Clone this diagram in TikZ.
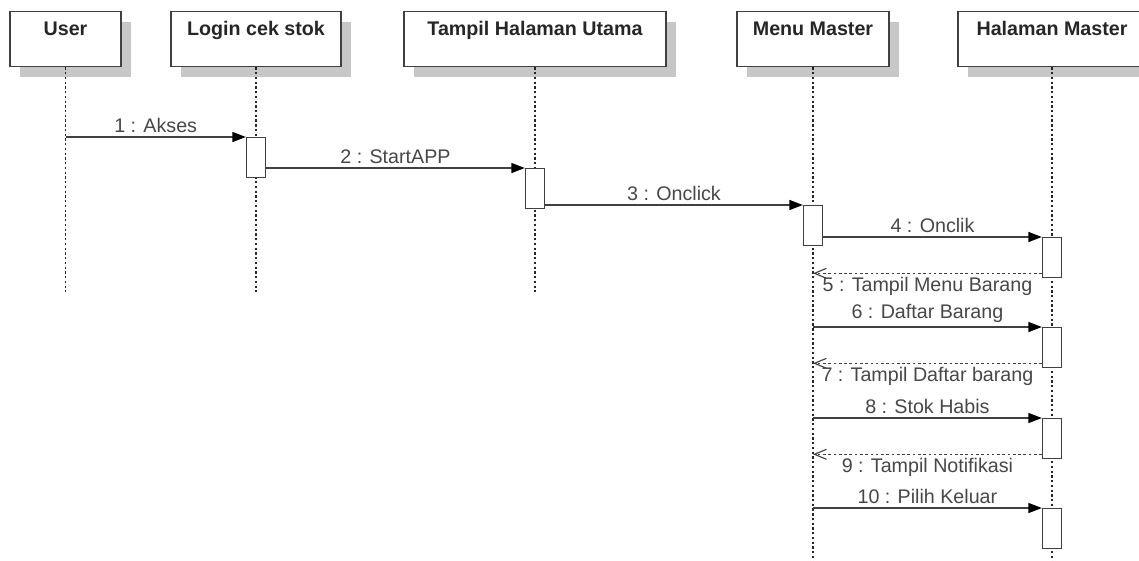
\documentclass[tikz,border=0pt]{standalone}
\usepackage{fontspec}
\setmainfont{Liberation Sans}
\usetikzlibrary{arrows.meta,shadows}

\tikzset{
	objet/.style	=	{draw=black!75, line width=0.75pt, fill=white, anchor=north, inner sep=0pt,
						 text height=0.48cm, text depth=0.62cm, text=black!85,
						 font=\bfseries\fontsize{11.2}{13}\selectfont,
						 drop shadow={shadow xshift=0.2cm, shadow yshift=-0.2cm, fill=black!22, opacity=1}},
	vie/.style		=	{black!85, line width=0.7pt, dash pattern=on 1.3pt off 1.4pt},
	activ/.style	=	{draw=black!75, line width=0.75pt, fill=white, anchor=north, inner sep=0pt,
						 minimum width=0.38cm, minimum height=0.8cm},
	appel/.style	=	{black!75, line width=0.8pt, -{Triangle[length=0.27cm,width=0.2cm,color=black]}},
	retour/.style	=	{black!75, line width=0.65pt, dash pattern=on 1.5pt off 1.5pt,
						 -{Straight Barb[length=0.24cm,width=0.2cm]}},
	etiq/.style		=	{font=\fontsize{11.2}{13}\selectfont, text=black!72, inner sep=2pt}
}

\begin{document}
\begin{tikzpicture}[x=0.02cm, y=-0.02cm]
	% Cadre
	\useasboundingbox	(0,0)	rectangle	(1139,561);
	\clip				(0,0)	rectangle	(1139,561);
	% Objets
	\node [objet, minimum width=2.22cm]	(user)		at (65.5,11)	{User};
	\node [objet, minimum width=3.4cm]	(login)		at (256,11)		{Login cek stok};
	\node [objet, minimum width=5.24cm]	(utama)		at (535,11)		{Tampil Halaman Utama};
	\node [objet, minimum width=3.04cm]	(menu)		at (813,11)		{Menu Master};
	\node [objet, minimum width=3.76cm]	(master)	at (1052,11)	{Halaman Master};
	% Fins des lignes de vie
	\coordinate (userfin)	at (65.5,292);
	\coordinate (loginfin)	at (256,292);
	\coordinate (utamafin)	at (535,292);
	\coordinate (menufin)	at (813,561);
	\coordinate (masterfin)	at (1052,561);
	% Lignes de vie
	\draw [vie]	(user.south)	-- (userfin);
	\draw [vie]	(login.south)	-- (loginfin);
	\draw [vie]	(utama.south)	-- (utamafin);
	\draw [vie]	(menu.south)	-- (menufin);
	\draw [vie]	(master.south)	-- (masterfin);
	% Activations
	\node [activ]	(a1)	at (256,137)	{};
	\node [activ]	(a2)	at (535,168)	{};
	\node [activ]	(a3)	at (813,205)	{};
	\node [activ]	(a4)	at (1052,237)	{};
	\node [activ]	(a5)	at (1052,327)	{};
	\node [activ]	(a6)	at (1052,418)	{};
	\node [activ]	(a7)	at (1052,508)	{};
	% Points de retour
	\coordinate (r4)	at ([yshift=0.1cm]a4.south west);
	\coordinate (r5)	at ([yshift=0.1cm]a5.south west);
	\coordinate (r6)	at ([yshift=0.1cm]a6.south west);
	% Messages
	\draw [appel]	(user |- a1.north)	-- node [etiq, above] {1 : Akses}		(a1.north west);
	\draw [appel]	(a1.east |- a2.north)	-- node [etiq, above] {2 : StartAPP}	(a2.north west);
	\draw [appel]	(a2.east |- a3.north)	-- node [etiq, above] {3 : Onclick}		(a3.north west);
	\draw [appel]	(a3.east |- a4.north)	-- node [etiq, above] {4 : Onclik}		(a4.north west);
	\draw [retour]	(r4)	-- node [etiq, below] {5 : Tampil Menu Barang}		(menu |- r4);
	\draw [appel]	(menu |- a5.north)	-- node [etiq, above] {6 : Daftar Barang}	(a5.north west);
	\draw [retour]	(r5)	-- node [etiq, below] {7 : Tampil Daftar barang}	(menu |- r5);
	\draw [appel]	(menu |- a6.north)	-- node [etiq, above] {8 : Stok Habis}		(a6.north west);
	\draw [retour]	(r6)	-- node [etiq, below] {9 : Tampil Notifikasi}		(menu |- r6);
	\draw [appel]	(menu |- a7.north)	-- node [etiq, above] {10 : Pilih Keluar}	(a7.north west);
\end{tikzpicture}
\end{document}
